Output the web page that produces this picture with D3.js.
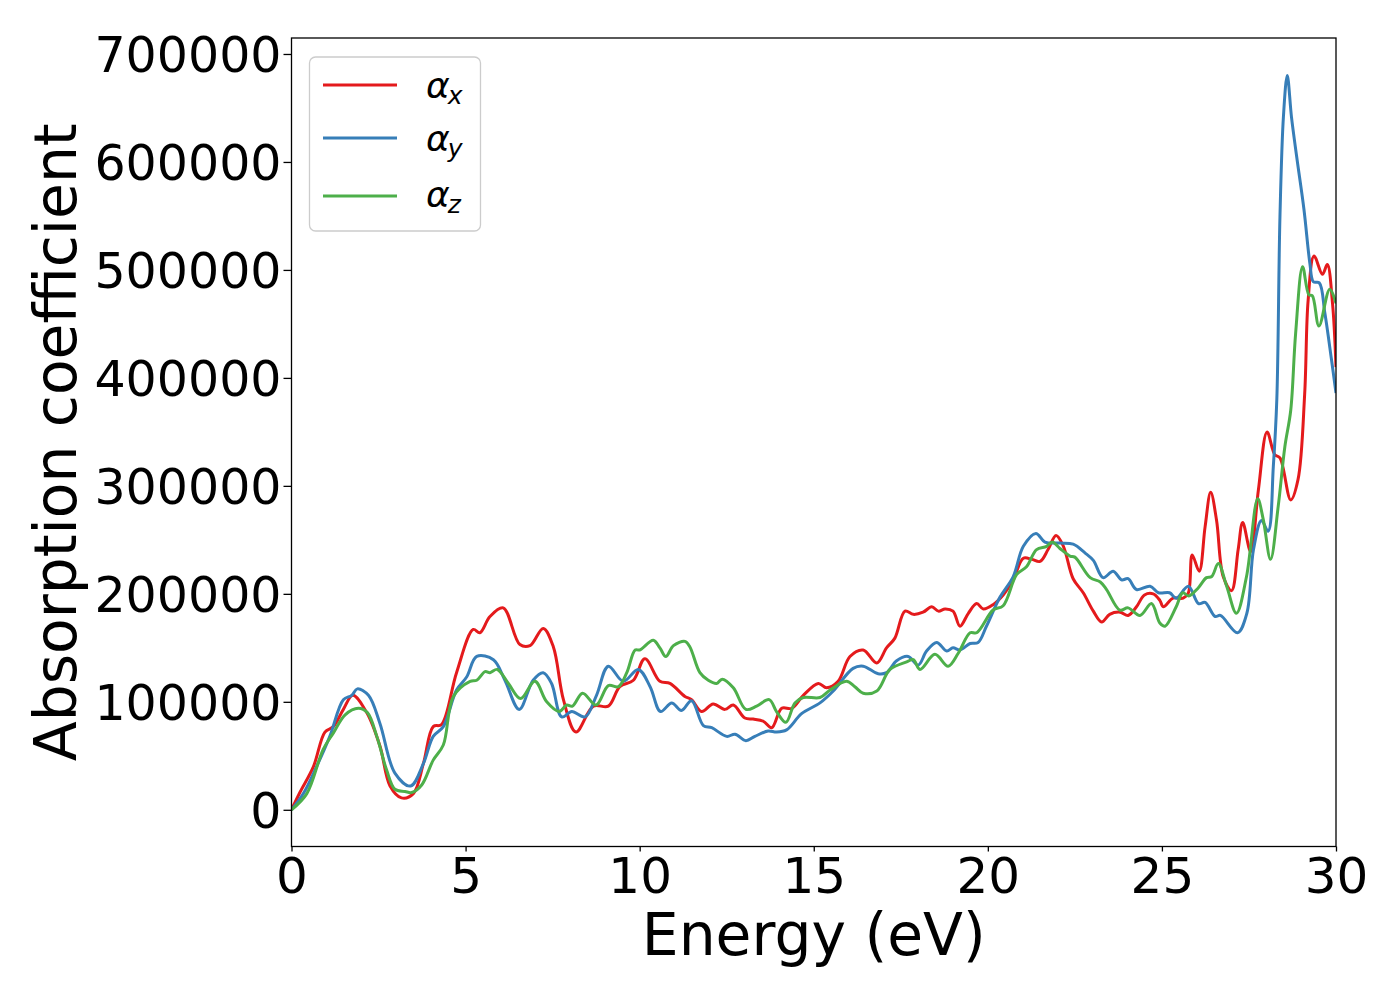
<!DOCTYPE html>
<html>
<head>
<meta charset="utf-8">
<script src="https://cdn.jsdelivr.net/npm/d3@7"></script>
<style>
  html, body { margin: 0; padding: 0; background: #fff; }
  svg { display: block; font-family: "DejaVu Sans", sans-serif; }
</style>
</head>
<body>
<svg id="chart" width="1400" height="1000"></svg>
<script>
// ---------- data ----------
const seriesNames = ["x", "y", "z"];
const seriesColors = ["#e41a1c", "#377eb8", "#4daf4a"];
const xTicks = [0, 5, 10, 15, 20, 25, 30];
const yTicks = [0, 100000, 200000, 300000, 400000, 500000, 600000, 700000];

const energyX = [0,0.24,0.63,0.96,1.2,1.49,1.76,2.16,2.54,2.83,3.16,3.5,3.79,4.07,4.31,4.74,5.22,5.41,5.7,6.08,6.56,6.85,7.23,7.52,7.81,8.17,8.67,9.1,9.43,9.82,10.15,10.58,10.87,11.3,11.49,11.78,12.11,12.45,12.69,13.02,13.26,13.55,13.79,14.08,14.37,14.7,15.13,15.37,15.7,16.04,16.42,16.81,17.09,17.33,17.62,17.86,18.14,18.39,18.58,18.77,19.0,19.2,19.44,19.68,19.87,20.15,20.44,20.73,21.02,21.26,21.5,21.73,21.96,22.17,22.45,22.74,23.03,23.27,23.5,23.8,24.03,24.27,24.5,24.75,24.94,25.04,25.32,25.61,25.76,25.87,26.07,26.24,26.4,26.57,26.76,27.0,27.19,27.32,27.55,27.77,28.02,28.24,28.39,28.7,28.91,29.1,29.2,29.37,29.61,29.75,29.9,30];
const alphaX = [0,16000,40000,72000,77000,93000,106000,90000,59000,22000,11000,15000,43000,77000,79000,127000,167000,164000,179000,187000,153000,152000,168000,151000,102000,72000,96000,96000,114000,120000,140000,119000,117000,105000,102000,91000,98000,93000,97000,85000,84000,82000,76000,94000,94000,106000,117000,113000,119000,142000,148000,136000,150000,159000,184000,181000,183000,188000,184000,186000,184000,170000,182000,191000,186000,190000,199000,213000,233000,232000,230000,241000,254000,244000,214000,201000,184000,174000,181000,183000,180000,188000,199000,200000,194000,188000,196000,196000,201000,236000,221000,262000,294000,268000,216000,203000,241000,266000,239000,296000,350000,329000,326000,287000,306000,385000,472000,513000,496000,505000,469000,410000];

const energyY = [0,0.34,0.72,1.1,1.49,1.73,1.89,2.21,2.54,2.97,3.42,3.79,4.07,4.36,4.74,5.03,5.32,5.8,6.13,6.54,6.94,7.23,7.47,7.76,8.05,8.43,8.76,9.1,9.53,9.96,10.3,10.6,10.92,11.2,11.49,11.83,12.07,12.5,12.74,13.05,13.31,13.69,13.93,14.22,14.65,15.18,15.56,16.13,16.42,16.85,17.09,17.38,17.71,18.0,18.24,18.53,18.82,19.0,19.2,19.49,19.72,19.96,20.35,20.73,21.02,21.38,21.64,22.07,22.45,22.79,23.03,23.31,23.6,23.84,24.03,24.27,24.66,24.9,25.22,25.41,25.76,26.05,26.24,26.53,26.68,27.17,27.44,27.63,27.86,28.05,28.2,28.3,28.39,28.49,28.6,28.72,28.87,29.08,29.25,29.35,29.52,29.68,29.87,30];
const alphaY = [0,15000,40000,68000,102000,106000,112000,106000,80000,34000,22000,43000,68000,77000,111000,123000,142000,139000,120000,93000,120000,127000,117000,86000,91000,86000,106000,133000,119000,130000,114000,91000,99000,92000,101000,78000,76000,68000,70000,64000,68000,73000,72000,74000,89000,99000,110000,131000,133000,126000,127000,138000,142000,134000,147000,155000,147000,150000,148000,154000,155000,170000,197000,216000,244000,256000,248000,247000,246000,238000,231000,215000,221000,213000,214000,204000,207000,201000,201000,196000,207000,191000,192000,179000,180000,164000,182000,241000,268000,258000,318000,380000,549000,642000,680000,642000,605000,556000,506000,489000,488000,460000,417000,386000];

const energyZ = [0,0.44,0.91,1.2,1.54,1.92,2.18,2.45,2.73,2.97,3.26,3.45,3.74,4.07,4.36,4.65,5.13,5.32,5.56,5.7,5.91,6.23,6.58,6.99,7.33,7.69,7.9,8.07,8.36,8.75,9.1,9.39,9.63,9.87,10.0,10.39,10.58,10.75,10.97,11.3,11.44,11.73,11.97,12.21,12.37,12.69,13.05,13.36,13.72,13.93,14.2,14.46,14.7,15.18,15.47,15.94,16.18,16.42,16.81,17.19,17.67,17.86,18.05,18.48,18.86,19.15,19.49,19.68,20.15,20.44,20.83,21.11,21.4,21.69,21.85,22.07,22.36,22.5,22.94,23.23,23.41,23.79,24.03,24.37,24.7,24.94,25.09,25.41,25.6,25.77,26.03,26.28,26.43,26.62,26.86,27.14,27.43,27.75,27.91,28.12,28.34,28.53,28.7,28.84,29.04,29.22,29.32,29.51,29.82,30];
const alphaZ = [0,15000,56000,71000,88000,94000,90000,68000,37000,19000,17000,16000,23000,46000,60000,105000,119000,120000,128000,127000,130000,117000,103000,119000,100000,91000,97000,96000,108000,97000,115000,114000,127000,148000,148000,157000,150000,142000,152000,156000,151000,127000,120000,117000,121000,113000,93000,96000,102000,91000,81000,99000,104000,104000,111000,119000,114000,108000,110000,130000,137000,139000,130000,144000,133000,145000,164000,164000,185000,189000,218000,225000,241000,244000,248000,242000,235000,234000,215000,211000,204000,185000,187000,180000,191000,173000,170000,188000,201000,198000,205000,215000,216000,228000,207000,182000,216000,288000,269000,232000,281000,336000,370000,441000,503000,477000,476000,448000,482000,469000];

const seriesEnergies = [energyX, energyY, energyZ];
const seriesValues = [alphaX, alphaY, alphaZ];

// ---------- layout ----------
const svg = d3.select("#chart");
const L = 291.5, R = 1336, T = 38, B = 846.5;

const x = d3.scaleLinear().domain([0, 30]).range([L, R]);
const y = d3.scaleLinear().domain([-34000, 714800]).range([B, T]);

svg.append("rect").attr("width", 1400).attr("height", 1000).attr("fill", "#fff");

svg.append("defs").append("clipPath").attr("id", "clip")
  .append("rect").attr("x", L).attr("y", T).attr("width", R - L).attr("height", B - T);

// lines
const line = d3.line()
  .x(d => x(d[0])).y(d => y(d[1]))
  .curve(d3.curveCatmullRom.alpha(0.5));

const gLines = svg.append("g").attr("clip-path", "url(#clip)");
seriesNames.forEach((n, i) => {
  const pts = seriesEnergies[i].map((e, k) => [e, seriesValues[i][k]]);
  gLines.append("path")
    .datum(pts)
    .attr("d", line)
    .attr("fill", "none")
    .attr("stroke", seriesColors[i])
    .attr("stroke-width", 3)
    .attr("stroke-linejoin", "round")
    .attr("stroke-linecap", "butt");
});

// axes
const xAxis = d3.axisBottom(x).tickValues(xTicks).tickFormat(d3.format("d")).tickSize(5).tickPadding(6);
const yAxis = d3.axisLeft(y).tickValues(yTicks).tickFormat(d3.format("d")).tickSize(8).tickPadding(2);

const gx = svg.append("g").attr("transform", `translate(0,${B})`).call(xAxis);
const gy = svg.append("g").attr("transform", `translate(${L},0)`).call(yAxis);
[gx, gy].forEach(g => {
  g.select(".domain").remove();
  g.selectAll(".tick line").attr("stroke", "#000").attr("stroke-width", 1.3);
  g.selectAll(".tick text").attr("fill", "#000")
    .style("font-family", "'DejaVu Sans', sans-serif").style("font-size", "50px");
});
gx.selectAll(".tick text").attr("dy", null).attr("y", 46);
gy.selectAll(".tick text").attr("dy", "0.36em").style("font-size", "49px");

// spines
svg.append("rect").attr("x", L).attr("y", T).attr("width", R - L).attr("height", B - T)
  .attr("fill", "none").attr("stroke", "#000").attr("stroke-width", 1.3);

// axis labels
svg.append("text").attr("x", (L + R) / 2).attr("y", 955).attr("text-anchor", "middle")
  .style("font-size", "58.3px").attr("fill", "#000").text("Energy (eV)");
svg.append("text").attr("transform", `translate(76,${(T + B) / 2}) rotate(-90)`)
  .attr("text-anchor", "middle").style("font-size", "58.3px").attr("fill", "#000")
  .text("Absorption coefficient");

// legend
const lg = svg.append("g");
lg.append("rect").attr("x", 309.5).attr("y", 57).attr("width", 171).attr("height", 174)
  .attr("rx", 6).attr("fill", "#fff").attr("fill-opacity", 0.8)
  .attr("stroke", "#cccccc").attr("stroke-width", 1.3);
const rowY = [85, 138, 196];
const textBase = [98, 151, 207];
seriesNames.forEach((n, i) => {
  lg.append("line").attr("x1", 323).attr("x2", 397).attr("y1", rowY[i]).attr("y2", rowY[i])
    .attr("stroke", seriesColors[i]).attr("stroke-width", 3);
  const t = lg.append("text").attr("x", 426).attr("y", textBase[i])
    .style("font-size", "36px").style("font-style", "italic").attr("fill", "#000");
  t.append("tspan").text("α");
  t.append("tspan").attr("dx", -2).attr("dy", 6).style("font-size", "25px").text(n);
});
</script>
</body>
</html>
